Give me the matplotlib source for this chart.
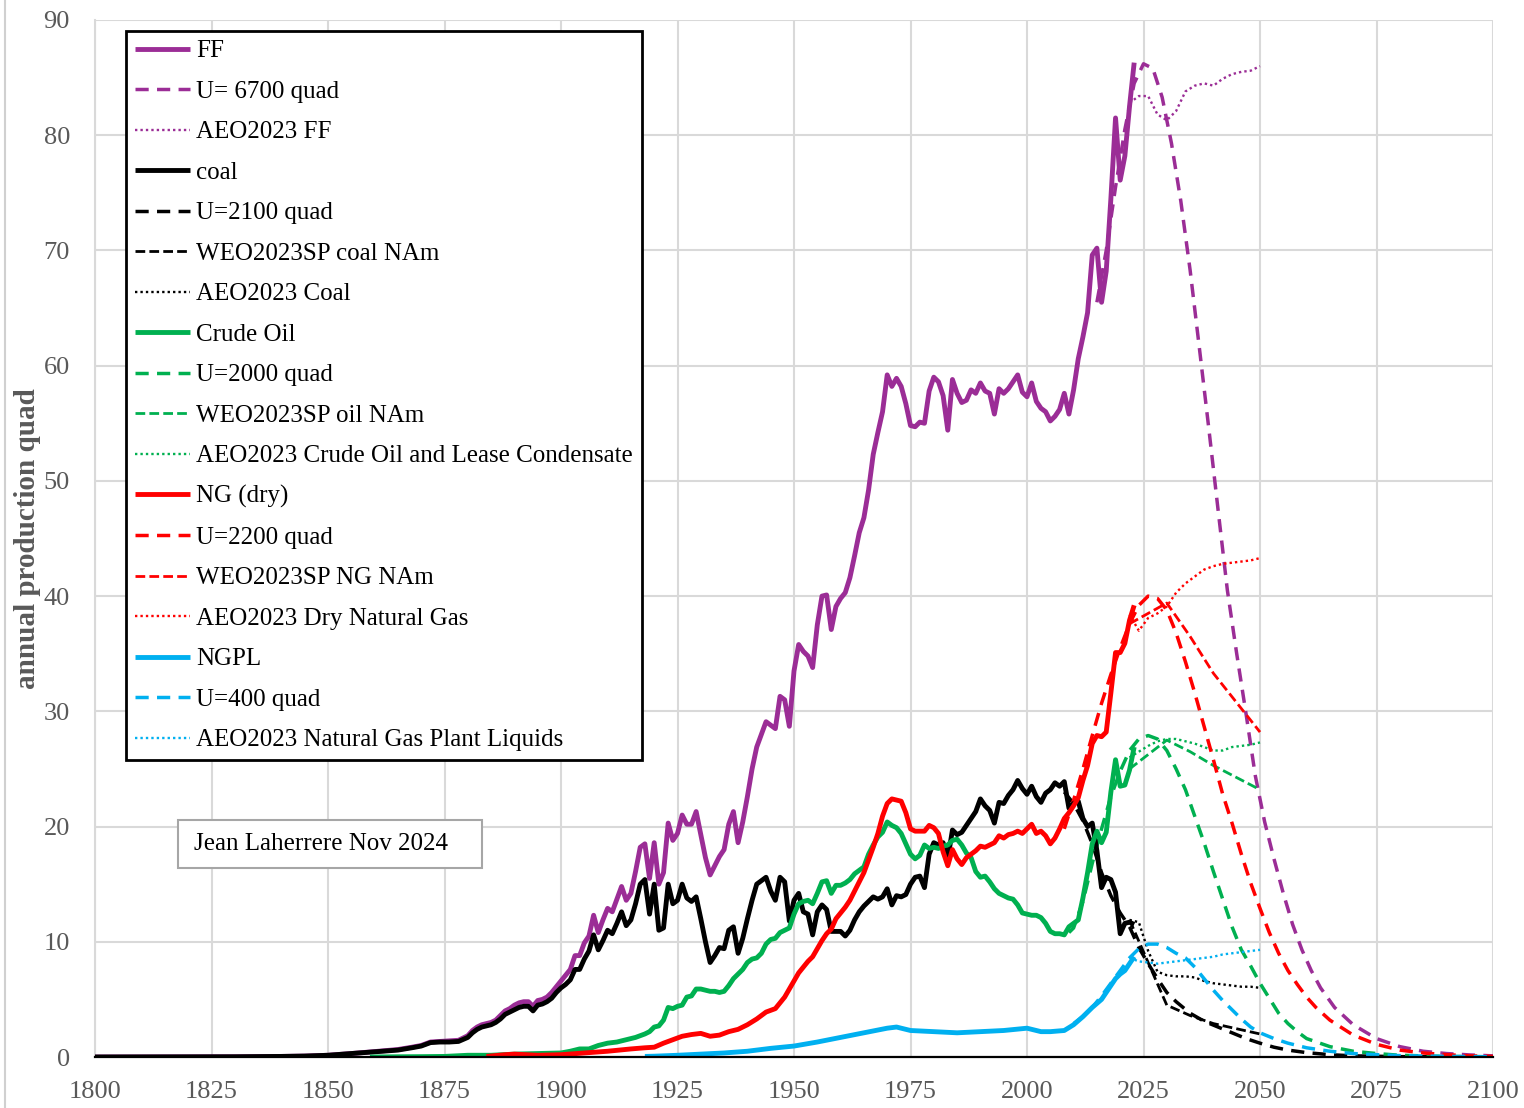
import matplotlib
matplotlib.use("Agg")
import matplotlib.pyplot as plt
from matplotlib.patches import Rectangle
from matplotlib.lines import Line2D

plt.rcParams['font.family'] = ['Liberation Serif', 'DejaVu Serif']

# ---------------- data ----------------
coal_years = [1800, 1820, 1830, 1840, 1845, 1850, 1855, 1860, 1865, 1868, 1870, 1872, 1874, 1876, 1878,
              1880, 1881, 1882, 1883, 1884, 1885, 1886, 1887, 1888, 1889, 1890, 1891, 1892, 1893, 1894,
              1895, 1896, 1897, 1898, 1899] + list(range(1900, 2024))
coal_vals = [0.0, 0.01, 0.02, 0.05, 0.08, 0.15, 0.3, 0.45, 0.6, 0.8, 0.95, 1.25, 1.3, 1.3, 1.35,
             1.7, 2.1, 2.4, 2.6, 2.7, 2.8, 3.0, 3.3, 3.7, 3.9, 4.1, 4.3, 4.4, 4.4, 4.0,
             4.5, 4.6, 4.8, 5.1, 5.6,
             6.0, 6.3, 6.7, 7.6, 7.6, 8.5, 9.2, 10.6, 9.3, 10.1,
             11.0, 10.7, 11.6, 12.6, 11.4, 11.9, 13.3, 15.0, 15.4, 12.4,
             15.0, 11.0, 11.2, 15.0, 13.3, 13.6, 15.0, 13.8, 13.5, 13.9,
             12.0, 10.0, 8.2, 8.8, 9.5, 9.4, 11.0, 11.3, 9.0, 10.3,
             12.0, 13.6, 15.0, 15.3, 15.6, 14.4, 13.6, 15.6, 15.2, 11.8,
             13.6, 14.2, 12.6, 12.4, 10.6, 12.6, 13.2, 12.8, 10.9, 10.9,
             10.9, 10.5, 11.0, 11.9, 12.6, 13.1, 13.5, 13.9, 13.7, 13.9,
             14.6, 13.2, 14.0, 13.9, 14.1, 15.0, 15.6, 15.7, 14.7, 17.6,
             18.6, 18.4, 18.6, 17.2, 19.7, 19.3, 19.5, 20.1, 20.7, 21.3,
             22.4, 21.8, 21.4, 20.3, 22.1, 22.0, 22.7, 23.2, 24.0, 23.3,
             22.8, 23.5, 22.6, 22.1, 22.9, 23.2, 23.8, 23.5, 23.9, 21.6,
             22.0, 22.2, 20.7, 20.0, 20.3, 17.9, 14.7, 15.6, 15.4, 14.3,
             10.7, 11.6, 11.7, 11.5]

ff_years = coal_years
ff_vals = [0.0, 0.01, 0.02, 0.05, 0.08, 0.15, 0.3, 0.47, 0.65, 0.85, 1.0, 1.3, 1.35, 1.4, 1.45,
           1.85, 2.3, 2.6, 2.8, 2.9, 3.0, 3.2, 3.6, 4.0, 4.2, 4.5, 4.7, 4.8, 4.8, 4.4,
           4.9, 5.0, 5.2, 5.6, 6.1,
           6.6, 7.1, 7.6, 8.8, 8.8, 9.9, 10.5, 12.3, 10.8, 11.9,
           12.9, 12.6, 13.7, 14.8, 13.6, 14.2, 16.1, 18.2, 18.5, 15.5,
           18.6, 15.0, 16.0, 20.3, 18.8, 19.4, 21.0, 20.2, 20.2, 21.3,
           19.3, 17.3, 15.8, 16.6, 17.4, 18.0, 20.2, 21.3, 18.6, 20.4,
           22.6, 25.0, 26.9, 28.0, 29.1, 28.8, 28.5, 31.3, 31.0, 28.7,
           33.5, 35.8, 35.2, 34.8, 33.8, 37.5, 40.0, 40.1, 37.1, 39.1,
           39.8, 40.3, 41.6, 43.5, 45.5, 46.8, 49.2, 52.3, 54.2, 56.0,
           59.2, 58.2, 58.9, 58.2, 56.7, 54.8, 54.7, 55.1, 55.0, 57.8,
           59.0, 58.6, 57.4, 54.4, 58.8, 57.6, 56.8, 57.0, 57.9, 57.6,
           58.5, 57.8, 57.6, 55.8, 58.0, 57.6, 58.0, 58.6, 59.2, 57.7,
           57.3, 58.5, 56.9, 56.3, 56.0, 55.2, 55.6, 56.2, 57.6, 55.8,
           57.9, 60.6, 62.5, 64.6, 69.6, 70.2, 65.5, 68.2, 74.5, 81.5,
           76.1, 78.2, 82.5, 86.3]

oil_years = [1859, 1865, 1870, 1875, 1880, 1885, 1890, 1895, 1900, 1902, 1904, 1906, 1908, 1910, 1912,
             1914, 1916, 1918, 1919, 1920, 1921, 1922, 1923, 1924, 1925, 1926, 1927, 1928, 1929] + list(range(1930, 2024))
oil_vals = [0.0, 0.02, 0.03, 0.05, 0.15, 0.15, 0.25, 0.3, 0.35, 0.5, 0.7, 0.7, 1.0, 1.2, 1.3,
            1.5, 1.7, 2.0, 2.2, 2.6, 2.7, 3.2, 4.3, 4.2, 4.4, 4.5, 5.2, 5.3, 5.9,
            5.9, 5.8, 5.7, 5.7, 5.6, 5.7, 6.2, 6.8, 7.2, 7.6,
            8.2, 8.5, 8.6, 9.0, 9.8, 10.2, 10.3, 10.8, 11.0, 11.2,
            12.4, 13.3, 13.5, 13.6, 13.3, 14.2, 15.2, 15.3, 14.2, 14.9,
            14.9, 15.1, 15.4, 15.9, 16.2, 16.5, 17.6, 18.4, 19.1, 19.5,
            20.4, 20.1, 19.9, 19.4, 18.5, 17.6, 17.2, 17.5, 18.4, 18.1,
            18.2, 18.1, 18.3, 18.4, 18.8, 18.9, 18.4, 17.7, 17.3, 16.1,
            15.6, 15.7, 15.2, 14.6, 14.2, 14.0, 13.8, 13.7, 13.2, 12.5,
            12.4, 12.3, 12.3, 12.1, 11.6, 10.9, 10.7, 10.7, 10.6, 11.3,
            11.6, 11.9, 13.8, 16.0, 18.5, 19.6, 18.6, 19.5, 23.0, 25.8,
            23.5, 23.6, 24.9, 26.9]

ng_years = [1884, 1888, 1890, 1895, 1900, 1905, 1910, 1915, 1918, 1920, 1922, 1924, 1926, 1928, 1930,
            1932, 1934, 1936, 1938, 1940, 1942, 1944, 1946, 1948] + list(range(1950, 2024))
ng_vals = [0.05, 0.2, 0.25, 0.15, 0.2, 0.35, 0.5, 0.7, 0.8, 0.85, 1.2, 1.5, 1.8, 1.95, 2.05,
           1.8, 1.9, 2.2, 2.4, 2.8, 3.3, 3.9, 4.2, 5.2,
           6.6, 7.3, 7.8, 8.3, 8.7, 9.4, 10.1, 10.7, 11.1, 12.0,
           12.5, 13.0, 13.6, 14.4, 15.2, 16.0, 17.1, 18.2, 19.4, 20.9,
           22.0, 22.4, 22.3, 22.2, 21.2, 19.8, 19.6, 19.6, 19.6, 20.1,
           19.9, 19.4, 17.8, 16.6, 18.0, 17.2, 16.7, 17.3, 17.6, 17.9,
           18.3, 18.2, 18.4, 18.6, 19.2, 19.0, 19.3, 19.4, 19.6, 19.4,
           19.8, 20.2, 19.4, 19.6, 19.2, 18.5, 19.0, 19.8, 20.7, 21.2,
           21.8, 22.5, 24.0, 25.3, 27.2, 27.9, 27.8, 28.2, 31.6, 35.1,
           35.1, 35.9, 37.9, 39.2]

ngpl_years = [1918, 1920, 1925, 1930, 1935, 1940, 1945, 1950, 1955, 1960, 1965, 1970, 1972, 1975, 1980,
              1985, 1990, 1995, 2000, 2003, 2005, 2008, 2010, 2012, 2014, 2016, 2018, 2019, 2020, 2021,
              2022, 2023]
ngpl_vals = [0.05, 0.07, 0.15, 0.25, 0.35, 0.5, 0.75, 0.95, 1.3, 1.7, 2.1, 2.5, 2.6, 2.3, 2.2,
             2.1, 2.2, 2.3, 2.5, 2.2, 2.2, 2.3, 2.8, 3.5, 4.3, 5.0, 6.2, 6.8, 7.2, 7.5,
             8.1, 8.7]

# U (ultimate) model curves
ff_u_years = [2015, 2017, 2019, 2021, 2023, 2025, 2027, 2029, 2031, 2033, 2035, 2037, 2039, 2041, 2043,
              2045, 2047, 2049, 2051, 2053, 2055, 2057, 2059, 2061, 2063, 2066, 2070, 2075, 2080, 2085,
              2090, 2095, 2100]
ff_u_vals = [65.5, 70.0, 75.5, 80.5, 84.5, 86.2, 85.8, 83.3, 79.3, 74.3, 68.3, 61.5, 54.6, 47.5, 40.5,
             35.0, 29.8, 24.4, 20.4, 17.2, 14.2, 11.5, 9.3, 7.5, 6.0, 4.3, 2.8, 1.6, 0.9, 0.5,
             0.3, 0.18, 0.1]

coal_u_years = [2008, 2010, 2012, 2014, 2016, 2018, 2020, 2022, 2024, 2026, 2028, 2030, 2032, 2035, 2038,
                2041, 2044, 2047, 2050, 2053, 2056, 2060, 2065, 2070, 2080, 2100]
coal_u_vals = [23.0, 22.0, 20.5, 18.5, 16.0, 14.0, 12.5, 11.3, 9.5, 8.1, 6.8, 5.6, 4.8, 3.8, 3.1,
               2.6, 2.1, 1.6, 1.2, 0.85, 0.6, 0.38, 0.2, 0.1, 0.03, 0.0]

oil_u_years = [2009, 2010, 2012, 2014, 2016, 2018, 2020, 2022, 2024, 2026, 2028, 2030, 2032, 2034, 2036,
               2038, 2040, 2042, 2044, 2046, 2048, 2050, 2052, 2054, 2056, 2058, 2060, 2065, 2070, 2075,
               2080, 2090, 2100]
oil_u_vals = [10.8, 11.2, 13.5, 16.8, 19.8, 22.6, 24.8, 26.6, 27.6, 27.9, 27.6, 26.6, 25.0, 23.2, 20.9,
              18.6, 16.1, 13.7, 11.3, 9.3, 7.9, 6.4, 5.1, 3.8, 2.9, 2.2, 1.6, 0.9, 0.5, 0.3,
              0.15, 0.05, 0.02]

ng_u_years = [2008, 2010, 2012, 2014, 2016, 2018, 2020, 2022, 2024, 2026, 2028, 2030, 2032, 2034, 2036,
              2038, 2040, 2042, 2044, 2046, 2048, 2050, 2052, 2054, 2056, 2058, 2060, 2062, 2065, 2070,
              2075, 2080, 2085, 2090, 2095, 2100]
ng_u_vals = [19.8, 22.3, 25.0, 27.9, 30.7, 33.2, 35.5, 37.6, 39.2, 40.0, 39.8, 38.8, 36.8, 34.3, 31.6,
             28.7, 25.8, 22.8, 20.3, 17.6, 15.1, 12.9, 10.8, 9.0, 7.5, 6.3, 5.2, 4.3, 3.2, 1.9,
             1.1, 0.6, 0.35, 0.2, 0.1, 0.05]

ngpl_u_years = [2010, 2012, 2014, 2016, 2018, 2020, 2022, 2024, 2026, 2028, 2030, 2032, 2034, 2036, 2038,
                2040, 2042, 2044, 2046, 2048, 2050, 2053, 2056, 2060, 2065, 2070, 2075, 2080, 2090, 2100]
ngpl_u_vals = [2.9, 3.5, 4.3, 5.3, 6.4, 7.5, 8.6, 9.4, 9.8, 9.8, 9.5, 9.0, 8.6, 7.8, 6.8,
               5.8, 4.9, 4.1, 3.3, 2.6, 2.1, 1.6, 1.2, 0.8, 0.5, 0.3, 0.2, 0.12, 0.05, 0.02]

# WEO2023 SP (North America)
weo_years = [2022, 2030, 2035, 2040, 2050]
weo_coal = [11.9, 4.5, 3.6, 2.9, 2.0]
weo_oil = [25.0, 27.5, 26.5, 25.3, 23.2]
weo_ng = [37.6, 39.4, 36.5, 33.3, 28.2]

# AEO2023
aeo_years = [2022, 2024, 2026, 2028, 2030, 2032, 2034, 2036, 2038, 2040, 2042, 2044, 2046, 2048, 2050]
aeo_ff = [82.8, 83.4, 83.4, 81.8, 81.3, 82.1, 83.8, 84.3, 84.5, 84.3, 84.9, 85.3, 85.5, 85.6, 86.0]
aeo_coal = [11.9, 11.7, 9.2, 7.4, 7.1, 7.0, 7.0, 6.9, 6.6, 6.4, 6.3, 6.2, 6.1, 6.1, 6.0]
aeo_oil = [26.0, 26.5, 27.0, 27.4, 27.6, 27.6, 27.4, 27.2, 26.9, 26.6, 26.6, 26.9, 27.0, 27.1, 27.3]
aeo_ng = [38.4, 37.0, 38.1, 38.5, 39.1, 40.3, 41.1, 41.7, 42.3, 42.6, 42.8, 42.9, 43.0, 43.1, 43.3]
aeo_ngpl = [8.6, 8.3, 8.2, 8.1, 8.2, 8.3, 8.4, 8.5, 8.6, 8.7, 8.9, 9.0, 9.1, 9.2, 9.3]

x_ticks = [1800, 1825, 1850, 1875, 1900, 1925, 1950, 1975, 2000, 2025, 2050, 2075, 2100]
y_ticks = [0, 10, 20, 30, 40, 50, 60, 70, 80, 90]

# ---------------- styles ----------------
PURPLE = '#9b2d96'
BLACK = '#000000'
GREEN = '#00b050'
RED = '#ff0000'
BLUE = '#00b0f0'

LW_SOLID = 3.5
LW_U = 2.5
LW_WEO = 2.0
LW_AEO = 1.7
U_DASH = (3.8, 2.4)
WEO_DASH = (3.5, 1.5)
AEO_DASH = (1.0, 1.3)

fig = plt.figure(figsize=(15.24, 11.08), dpi=100)
ax = fig.add_axes([95 / 1524, 1 - 1057 / 1108, (1493 - 95) / 1524, (1057 - 20) / 1108])

def solid(x, y, c, label):
    ax.plot(x, y, color=c, lw=LW_SOLID, solid_joinstyle='round', solid_capstyle='butt', label=label, zorder=4)

def ucurve(x, y, c, label):
    ax.plot(x, y, color=c, lw=LW_U, dashes=U_DASH, label=label, zorder=3)

def weo(x, y, c, label):
    ax.plot(x, y, color=c, lw=LW_WEO, dashes=WEO_DASH, label=label, zorder=3)

def aeo(x, y, c, label):
    ax.plot(x, y, color=c, lw=LW_AEO, dashes=AEO_DASH, label=label, zorder=3)

solid(ff_years, ff_vals, PURPLE, 'FF')
ucurve(ff_u_years, ff_u_vals, PURPLE, 'U= 6700 quad')
aeo(aeo_years, aeo_ff, PURPLE, 'AEO2023 FF')
solid(coal_years, coal_vals, BLACK, 'coal')
ucurve(coal_u_years, coal_u_vals, BLACK, 'U=2100 quad')
weo(weo_years, weo_coal, BLACK, 'WEO2023SP coal NAm')
aeo(aeo_years, aeo_coal, BLACK, 'AEO2023 Coal')
solid(oil_years, oil_vals, GREEN, 'Crude Oil')
ucurve(oil_u_years, oil_u_vals, GREEN, 'U=2000 quad')
weo(weo_years, weo_oil, GREEN, 'WEO2023SP oil NAm')
aeo(aeo_years, aeo_oil, GREEN, 'AEO2023 Crude Oil and Lease Condensate')
solid(ng_years, ng_vals, RED, 'NG (dry)')
ucurve(ng_u_years, ng_u_vals, RED, 'U=2200 quad')
weo(weo_years, weo_ng, RED, 'WEO2023SP NG NAm')
aeo(aeo_years, aeo_ng, RED, 'AEO2023 Dry Natural Gas')
solid(ngpl_years, ngpl_vals, BLUE, 'NGPL')
ucurve(ngpl_u_years, ngpl_u_vals, BLUE, 'U=400 quad')
aeo(aeo_years, aeo_ngpl, BLUE, 'AEO2023 Natural Gas Plant Liquids')

ax.set_xlim(1800, 2100)
ax.set_ylim(0, 90)
ax.set_xticks(x_ticks)
ax.set_yticks(y_ticks)
ax.grid(True, color='#d9d9d9', lw=1.5, zorder=0)
ax.set_axisbelow(True)
ax.tick_params(axis='both', length=0, labelsize=19, labelcolor='#595959')
ax.tick_params(axis='x', pad=17)
ax.tick_params(axis='y', pad=18)
for s in ['top', 'right']:
    ax.spines[s].set_visible(False)
ax.spines['left'].set_color('#d9d9d9')
ax.spines['left'].set_linewidth(1.5)
ax.spines['bottom'].set_color('#000000')
ax.spines['bottom'].set_linewidth(1.6)
ax.spines['bottom'].set_zorder(5)

ax.set_ylabel('annual production quad', fontsize=21, fontweight='bold', color='#595959', labelpad=2)

leg = ax.legend(loc='upper left', bbox_to_anchor=(126 / 1524, 1 - 31 / 1108),
                bbox_transform=fig.transFigure, fontsize=18, frameon=True, fancybox=False,
                framealpha=1, edgecolor='black', handlelength=2.2, handletextpad=0.25,
                labelspacing=0.72, borderpad=0.35, borderaxespad=0)
leg.get_frame().set_linewidth(2.0)
leg.set_zorder(10)

# author box
fig.patches.append(Rectangle((178 / 1524, 1 - 868 / 1108), 304 / 1524, 48 / 1108,
                             transform=fig.transFigure, facecolor='white', edgecolor='#a6a6a6',
                             lw=1.5, zorder=6))
fig.text(321 / 1524, 1 - 844 / 1108, 'Jean Laherrere Nov 2024', fontsize=18, ha='center',
         va='center', color='black', zorder=7)

# thin page border on the left
fig.add_artist(Line2D([5 / 1524, 5 / 1524], [0, 1], transform=fig.transFigure, color='#d0d0d0', lw=1.5))

fig.savefig('out.png', dpi=100, facecolor='white')
